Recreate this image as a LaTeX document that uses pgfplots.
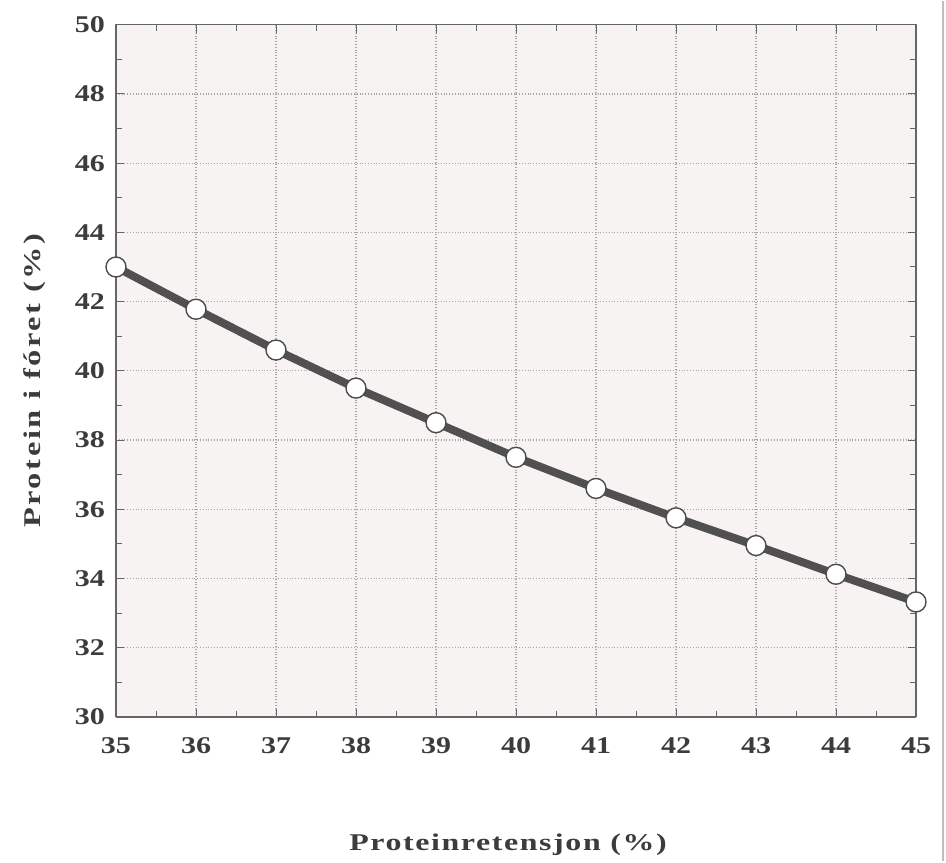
\documentclass[border=0pt]{standalone}
\usepackage{fontspec}
\usepackage{graphicx}
\setmainfont{Liberation Serif}
\newfontfamily\xlabfont[LetterSpace=5]{Liberation Serif}
\newfontfamily\ylabfont[LetterSpace=8]{Liberation Serif}
\usepackage{pgfplots}
\pgfplotsset{compat=1.18}
\definecolor{bgc}{RGB}{247,243,243}
\definecolor{linec}{RGB}{80,80,80}
\definecolor{txt}{RGB}{60,60,60}
\begin{document}
\begin{tikzpicture}
\begin{axis}[
  scale only axis,
  width=400pt, height=346pt,
  xmin=35, xmax=45, ymin=30, ymax=50,
  xtick={35,...,45}, ytick={30,32,...,50},
  minor x tick num=1, minor y tick num=1,
  tick align=inside,
  major tick length=4pt, minor tick length=3pt,
  tick style={color=gray!80!black, line width=0.5pt},
  grid=major,
  major grid style={densely dotted, color=gray!70, line width=0.6pt},
  axis background/.style={fill=bgc},
  axis line style={color=gray!80!black, line width=0.6pt},
  ticklabel style={font=\bfseries\fontsize{12}{14}\selectfont, text=txt},
  /pgf/number format/assume math mode=true,
  xticklabel={\scalebox{1.25}[1]{\pgfmathprintnumber{\tick}}},
  yticklabel={\scalebox{1.25}[1]{\pgfmathprintnumber{\tick}}},
  yticklabel style={xshift=-2pt},
  xticklabel style={yshift=-7pt},
  xlabel={\scalebox{1.33}[1]{Proteinretensjon (\%)}},
  ylabel={\scalebox{1.35}[1]{Protein i fóret (\%)}},
  xlabel style={font=\xlabfont\bfseries\fontsize{12}{14}\selectfont, text=txt, yshift=-33pt, xshift=-4pt},
  ylabel style={font=\ylabfont\bfseries\fontsize{12}{14}\selectfont, text=txt, yshift=8pt, xshift=-5pt},
  clip=false,
]
\addplot[color=linec, line width=4pt, mark=*, mark size=5pt,
  mark options={fill=white, draw=gray!60!black, line width=0.7pt}]
  coordinates {
  (35,43.0) (36,41.78) (37,40.6) (38,39.5) (39,38.5) (40,37.5)
  (41,36.6) (42,35.75) (43,34.95) (44,34.12) (45,33.32)
  };
\draw[gray!80!black, line width=1pt] (rel axis cs:0,0) -- (rel axis cs:1,0);
\path ([xshift=-58pt,yshift=-72pt]rel axis cs:0,0) rectangle ([xshift=15pt,yshift=12pt]rel axis cs:1,1);
\draw[gray!50, line width=0.8pt] ([xshift=13.5pt,yshift=-72pt]rel axis cs:1,0) -- ([xshift=13.5pt,yshift=12pt]rel axis cs:1,1);
\end{axis}
\end{tikzpicture}
\end{document}
